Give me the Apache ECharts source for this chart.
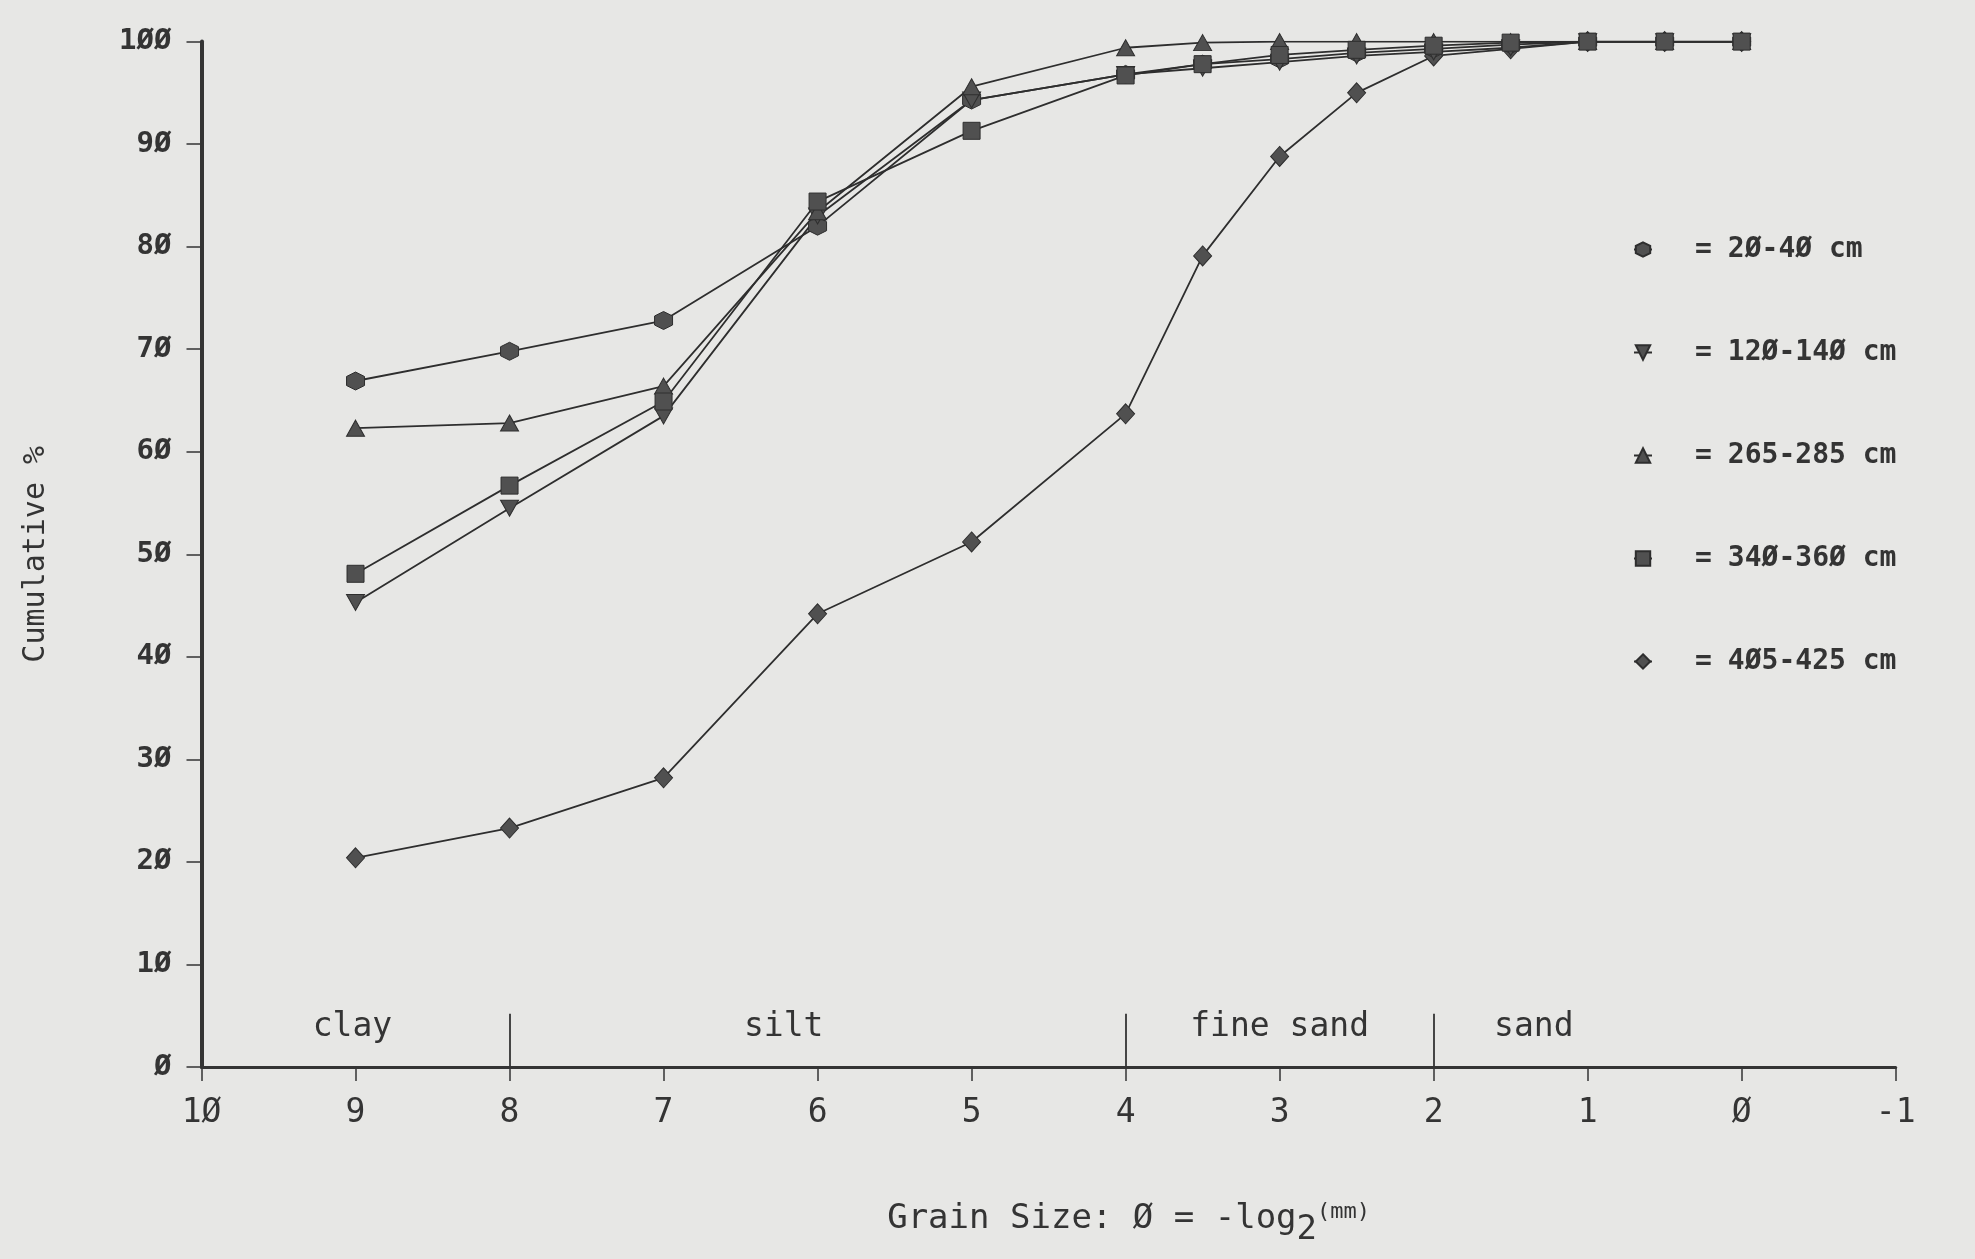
<!DOCTYPE html>
<html>
<head>
<meta charset="utf-8">
<script src="https://cdn.jsdelivr.net/npm/echarts@6/dist/echarts.min.js"></script>
<style>
  html, body { margin: 0; padding: 0; background: #e7e7e5; }
  #chart { width: 1975px; height: 1259px; }
</style>
</head>
<body>
<div id="chart"></div>
<script>
// Grain size (phi units) at which each sample was measured
const phi = [9, 8, 7, 6, 5, 4, 3.5, 3, 2.5, 2, 1.5, 1, 0.5, 0];

// Cumulative percentage finer than each phi size, one list per depth interval
const cum20to40   = [66.9, 69.8, 72.8, 82.0, 94.3, 96.8, 97.8, 98.3, 98.9, 99.3, 99.7, 100, 100, 100];
const cum120to140 = [45.3, 54.5, 63.5, 83.0, 94.3, 96.8, 97.4, 98.0, 98.6, 99.0, 99.4, 100, 100, 100];
const cum265to285 = [62.3, 62.8, 66.4, 83.4, 95.6, 99.4, 99.9, 100, 100, 100, 100, 100, 100, 100];
const cum340to360 = [48.1, 56.7, 64.9, 84.4, 91.3, 96.7, 97.8, 98.7, 99.2, 99.6, 99.9, 100, 100, 100];
const cum405to425 = [20.4, 23.3, 28.2, 44.2, 51.2, 63.7, 79.1, 88.8, 95.0, 98.6, 99.3, 100, 100, 100];

const depthNames = ['2Ø-4Ø cm', '12Ø-14Ø cm', '265-285 cm', '34Ø-36Ø cm', '4Ø5-425 cm'];

// Size classes along the phi axis
const zoneNames   = ['clay', 'silt', 'fine sand', 'sand'];
const zoneCenters = [9.02, 6.22, 3.0, 1.35];
const zoneBounds  = [8, 4, 2];

const INK = '#343434';
const MONO = '"DejaVu Sans Mono", "Liberation Mono", monospace';
const slashZero = v => String(v).replace(/0/g, 'Ø');

const symbols = {
  hex:  'path://M5,0 L9.33,2.5 L9.33,7.5 L5,10 L0.67,7.5 L0.67,2.5 Z',
  down: 'path://M0,0 L10,0 L5,9 Z',
  up:   'path://M5,0 L10,9 L0,9 Z',
  sq:   'rect',
  dia:  'diamond'
};

function pairs(ys) { return phi.map((x, i) => [x, ys[i]]); }

function curve(name, ys, symbol, size) {
  return {
    name: name,
    type: 'line',
    data: pairs(ys),
    symbol: symbol,
    symbolSize: size,
    showAllSymbol: true,
    lineStyle: { color: '#2e2e2e', width: 1.8 },
    itemStyle: { color: '#505050', borderColor: '#2e2e2e', borderWidth: 1 },
    emphasis: { disabled: true },
    animation: false
  };
}

const chart = echarts.init(document.getElementById('chart'));

chart.setOption({
  backgroundColor: '#e7e7e5',
  animation: false,
  grid: { left: 201.5, right: 79.3, top: 41.6, bottom: 192, containLabel: false },
  xAxis: {
    type: 'value',
    min: -1, max: 10, interval: 1,
    inverse: true,
    axisLine: { show: true, onZero: false, lineStyle: { color: INK, width: 3 } },
    axisTick: { show: true, length: 14, lineStyle: { color: INK, width: 1.5 } },
    splitLine: { show: false },
    axisLabel: {
      margin: 30, color: INK, fontFamily: MONO, fontSize: 33,
      formatter: slashZero
    },
    name: 'Grain Size: Ø = -log{sub|2}{mm|(mm)}',
    nameLocation: 'middle',
    nameGap: 124,
    nameTextStyle: {
      color: INK, fontFamily: MONO, fontSize: 34, padding: [0, 0, 0, 160],
      rich: {
        sub: { fontFamily: MONO, fontSize: 34, color: INK, padding: [22, 0, 0, 0] },
        mm:  { fontFamily: MONO, fontSize: 22, color: INK, padding: [0, 0, 14, 0] }
      }
    }
  },
  yAxis: {
    type: 'value',
    min: 0, max: 100, interval: 10,
    axisLine: { show: true, onZero: false, lineStyle: { color: INK, width: 4 } },
    axisTick: { show: true, length: 15, lineStyle: { color: INK, width: 1.5 } },
    splitLine: { show: false },
    axisLabel: {
      margin: 30, color: INK, fontFamily: MONO, fontSize: 29, fontWeight: 'bold',
      formatter: slashZero
    },
    name: 'Cumulative %',
    nameLocation: 'middle',
    nameRotate: 90,
    nameGap: 150,
    nameTextStyle: { color: INK, fontFamily: MONO, fontSize: 30 }
  },
  legend: {
    orient: 'vertical',
    left: 1628,
    top: 229,
    itemGap: 72,
    itemWidth: 18,
    itemHeight: 18,
    data: depthNames,
    selectedMode: false,
    formatter: name => '{eq|=}{n|' + name + '}',
    textStyle: {
      color: INK, fontFamily: MONO, fontSize: 28, lineHeight: 31,
      rich: {
        eq: { fontFamily: MONO, fontSize: 28, fontWeight: 'bold', color: INK, padding: [0, 16, 0, 38] },
        n:  { fontFamily: MONO, fontSize: 28, fontWeight: 'bold', color: INK }
      }
    }
  },
  series: [
    curve(depthNames[4], cum405to425, symbols.dia, [18, 20]),
    curve(depthNames[0], cum20to40, symbols.hex, 18),
    curve(depthNames[1], cum120to140, symbols.down, [18, 16]),
    curve(depthNames[2], cum265to285, symbols.up, [18, 16]),
    curve(depthNames[3], cum340to360, symbols.sq, 17),
    {
      // size-class names and their boundaries
      name: 'classes',
      type: 'scatter',
      data: zoneCenters.map((x, i) => ({ value: [x, 3.9], name: zoneNames[i] })),
      symbolSize: 0,
      silent: true,
      itemStyle: { opacity: 1 },
      label: {
        show: true, position: 'inside', formatter: p => p.name,
        color: INK, opacity: 1, textBorderWidth: 0, fontFamily: MONO, fontSize: 33
      },
      markLine: {
        silent: true,
        symbol: 'none',
        label: { show: false },
        lineStyle: { color: INK, width: 1.8, type: 'solid', opacity: 1 },
        data: zoneBounds.map(b => [{ coord: [b, 0] }, { coord: [b, 5.2] }])
      },
      animation: false
    }
  ]
});
</script>
</body>
</html>
